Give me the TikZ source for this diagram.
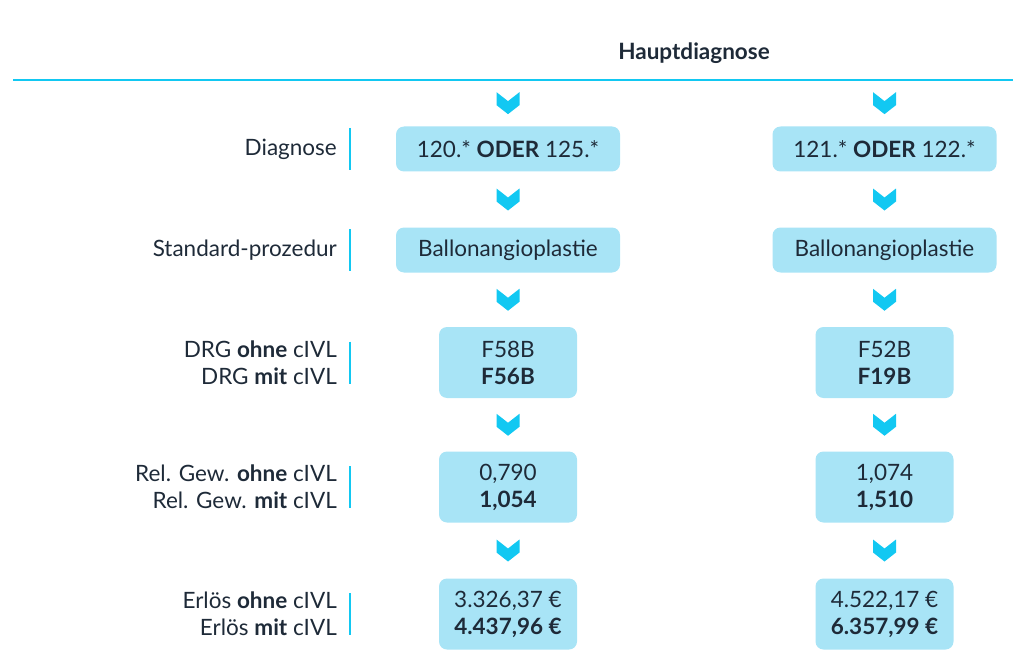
\documentclass[tikz,border=0pt]{standalone}
\usepackage{fontspec}
\setmainfont{Lato}
\usetikzlibrary{calc}

\definecolor{cyanline}{HTML}{12C8F2}
\definecolor{boxfill}{HTML}{A8E4F6}
\definecolor{ink}{HTML}{1E2A38}

\tikzset{
  wide/.style={fill=boxfill, rounded corners=8pt, minimum width=224pt, minimum height=45pt, inner sep=0pt, text=ink, align=center},
  narrow/.style={wide, minimum width=138pt, minimum height=71pt},
  rowlabel/.style={anchor=east, text=ink, align=right, inner sep=0pt},
  bar/.style={cyanline, line width=1.6pt},
  chev/.pic={\fill[cyanline] (-11.5,-11) -- (-11.5,2) -- (0,11) -- (11.5,2) -- (11.5,-11) -- (0,-2) -- cycle;}
}

\begin{document}
\begin{tikzpicture}[x=1pt,y=-1pt,font=\fontsize{22.5}{27}\selectfont]
\useasboundingbox (0,0) rectangle (1024,671);

% header
\node[text=ink, font=\fontsize{22.5}{27}\selectfont\bfseries] (head) at (694,53) {Hauptdiagnose};
\coordinate (l0) at (13,80);
\coordinate (l1) at (1013,80);
\draw[cyanline, line width=2pt] (l0) -- (l1);

% row labels
\node[rowlabel] (lab1) at (337,149) {Diagnose};
\node[rowlabel] (lab2) at (337,250) {Standard-prozedur};
\node[rowlabel] (lab3) at (337,362.5) {DRG \textbf{ohne} cIVL\\DRG \textbf{mit} cIVL};
\node[rowlabel] (lab4) at (337,487) {Rel. Gew. \textbf{ohne} cIVL\\Rel. Gew. \textbf{mit} cIVL};
\node[rowlabel] (lab5) at (337,614) {Erlös \textbf{ohne} cIVL\\Erlös \textbf{mit} cIVL};

\draw[bar] ($(lab1.east)+(13,-21)$) -- ++(0,42);
\draw[bar] ($(lab2.east)+(13,-21)$) -- ++(0,42);
\draw[bar] ($(lab3.east)+(13,-21)$) -- ++(0,42);
\draw[bar] ($(lab4.east)+(13,-21)$) -- ++(0,42);
\draw[bar] ($(lab5.east)+(13,-21)$) -- ++(0,42);

% left column
\node[wide] (A1) at (508,149) {120.* \textbf{ODER} 125.*};
\node[wide] (A2) at (508,250) {Ballonangioplastie};
\node[narrow] (A3) at (508,362.5) {F58B\\\textbf{F56B}};
\node[narrow] (A4) at (508,487) {0,790\\\textbf{1,054}};
\node[narrow] (A5) at (508,614) {3.326,37 €\\\textbf{4.437,96 €}};

% right column
\node[wide] (B1) at (884.5,149) {121.* \textbf{ODER} 122.*};
\node[wide] (B2) at (884.5,250) {Ballonangioplastie};
\node[narrow] (B3) at (884.5,362.5) {F52B\\\textbf{F19B}};
\node[narrow] (B4) at (884.5,487) {1,074\\\textbf{1,510}};
\node[narrow] (B5) at (884.5,614) {4.522,17 €\\\textbf{6.357,99 €}};

% chevrons
\pic at ($(A1.north)!0.5!(A1.north |- l0)$) {chev};
\pic at ($(B1.north)!0.5!(B1.north |- l0)$) {chev};
\pic at ($(A1.south)!0.5!(A2.north)$) {chev};
\pic at ($(B1.south)!0.5!(B2.north)$) {chev};
\pic at ($(A2.south)!0.5!(A3.north)$) {chev};
\pic at ($(B2.south)!0.5!(B3.north)$) {chev};
\pic at ($(A3.south)!0.5!(A4.north)$) {chev};
\pic at ($(B3.south)!0.5!(B4.north)$) {chev};
\pic at ($(A4.south)!0.5!(A5.north)$) {chev};
\pic at ($(B4.south)!0.5!(B5.north)$) {chev};
\end{tikzpicture}
\end{document}
